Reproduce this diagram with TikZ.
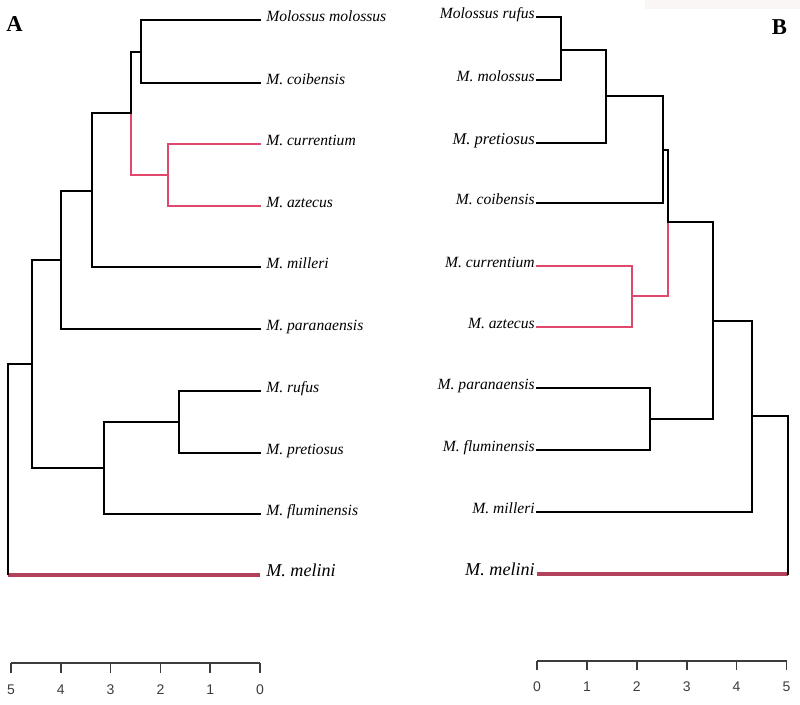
\documentclass[tikz,border=0pt]{standalone}
\usepackage{fontspec}
\setmainfont{Liberation Serif}
\newfontfamily\axisfont{Liberation Sans}
\definecolor{cladered}{RGB}{226,72,110}
\definecolor{outred}{RGB}{178,66,92}
\definecolor{axisgray}{RGB}{60,60,60}
\definecolor{faintbg}{RGB}{250,246,246}
\begin{document}
\begin{tikzpicture}[x=0.75pt,y=-0.75pt,
  br/.style={line width=1.5pt, black, line cap=rect},
  brred/.style={line width=1.5pt, cladered, line cap=rect},
  outg/.style={line width=2.6pt, outred},
  rootbr/.style={line width=0.9pt, black},
  axisline/.style={line width=1.2pt, axisgray},
  ticklbl/.style={font=\axisfont\fontsize{10.5}{12}\selectfont, text=axisgray, inner sep=0pt},
  tipl/.style={anchor=base west, inner sep=0pt, xshift=4.5pt, yshift=-1.5pt, font=\fontsize{11.7}{14}\selectfont\itshape},
  tipr/.style={anchor=base east, inner sep=0pt, xshift=-1.5pt, yshift=-1.5pt, font=\fontsize{11.7}{14}\selectfont\itshape},
  bigl/.style={tipl, font=\fontsize{13.6}{16}\selectfont\itshape},
  bigr/.style={tipr, font=\fontsize{13.6}{16}\selectfont\itshape},
  panel/.style={font=\fontsize{17}{20}\selectfont\bfseries, inner sep=0pt}]
\useasboundingbox (0,0) rectangle (800,705);
\fill[faintbg] (645,0) rectangle (800,9);

% ---------- Panel A ----------
\node[panel] (labA) at (14.5,24.5) {A};
\coordinate (tMolA) at (260,20);
\coordinate (tCoiA) at (260,83);
\coordinate (tCurA) at (260,144);
\coordinate (tAztA) at (260,206);
\coordinate (tMilA) at (260,267);
\coordinate (tParA) at (260,329);
\coordinate (tRufA) at (260,391);
\coordinate (tPreA) at (260,453);
\coordinate (tFluA) at (260,514);
\coordinate (tMelA) at (260,575);
\coordinate (a1) at (141,52);
\coordinate (a2) at (168,175);
\coordinate (a3) at (131,113);
\coordinate (a4) at (92,191);
\coordinate (a5) at (61,260);
\coordinate (a6) at (179,422);
\coordinate (a7) at (104,468);
\coordinate (a8) at (32,364);
\coordinate (rA) at (8,575);

\draw[br] (a1) |- (tMolA);
\draw[br] (a1) |- (tCoiA);
\draw[br] (a3) |- (a1);
\draw[brred] (a2) |- (tCurA);
\draw[brred] (a2) |- (tAztA);
\draw[brred] (a3) |- (a2);
\draw[br] (a4) |- (a3);
\draw[br] (a4) |- (tMilA);
\draw[br] (a5) |- (a4);
\draw[br] (a5) |- (tParA);
\draw[br] (a6) |- (tRufA);
\draw[br] (a6) |- (tPreA);
\draw[br] (a7) |- (a6);
\draw[br] (a7) |- (tFluA);
\draw[br] (a8) |- (a5);
\draw[br] (a8) |- (a7);
\draw[outg] (rA) -- (tMelA);
\draw[rootbr] (rA) |- (a8);

\node[tipl] (nMolA) at (tMolA) {Molossus molossus};
\node[tipl] (nCoiA) at (tCoiA) {M. coibensis};
\node[tipl] (nCurA) at (tCurA) {M. currentium};
\node[tipl] (nAztA) at (tAztA) {M. aztecus};
\node[tipl] (nMilA) at (tMilA) {M. milleri};
\node[tipl] (nParA) at (tParA) {M. paranaensis};
\node[tipl] (nRufA) at (tRufA) {M. rufus};
\node[tipl] (nPreA) at (tPreA) {M. pretiosus};
\node[tipl] (nFluA) at (tFluA) {M. fluminensis};
\node[bigl] (nMelA) at (tMelA) {M. melini};

\draw[axisline] (11,663) -- (260,663);
\foreach \v in {0,...,5}{
  \draw[axisline] ({260-49.8*\v},663) -- ({260-49.8*\v},673);
  \node[ticklbl] at ({260-49.8*\v},690) {\v};
}

% ---------- Panel B ----------
\node[panel] (labB) at (779.5,27.5) {B};
\coordinate (tRufB) at (537,17);
\coordinate (tMolB) at (537,80);
\coordinate (tPreB) at (537,143);
\coordinate (tCoiB) at (537,203);
\coordinate (tCurB) at (537,266);
\coordinate (tAztB) at (537,327);
\coordinate (tParB) at (537,388);
\coordinate (tFluB) at (537,450);
\coordinate (tMilB) at (537,512);
\coordinate (tMelB) at (537,574);
\coordinate (b1) at (561,50);
\coordinate (b2) at (606,96);
\coordinate (b3) at (663,150);
\coordinate (b4) at (632,296);
\coordinate (b5) at (668,222);
\coordinate (b6) at (650,419);
\coordinate (b7) at (713,321);
\coordinate (b8) at (752,416);
\coordinate (rB) at (788,574);

\draw[br] (b1) |- (tRufB);
\draw[br] (b1) |- (tMolB);
\draw[br] (b2) |- (b1);
\draw[br] (b2) |- (tPreB);
\draw[br] (b3) |- (b2);
\draw[br] (b3) |- (tCoiB);
\draw[br] (b5) |- (b3);
\draw[brred] (b4) |- (tCurB);
\draw[brred] (b4) |- (tAztB);
\draw[brred] (b5) |- (b4);
\draw[br] (b6) |- (tParB);
\draw[br] (b6) |- (tFluB);
\draw[br] (b7) |- (b5);
\draw[br] (b7) |- (b6);
\draw[br] (b8) |- (b7);
\draw[br] (b8) |- (tMilB);
\draw[outg] (rB) -- (tMelB);
\draw[br] (rB) |- (b8);

\node[tipr] (nRufB) at (tRufB) {Molossus rufus};
\node[tipr] (nMolB) at (tMolB) {M. molossus};
\node[tipr, font=\fontsize{12.4}{14}\selectfont\itshape] (nPreB) at (tPreB) {M. pretiosus};
\node[tipr] (nCoiB) at (tCoiB) {M. coibensis};
\node[tipr] (nCurB) at (tCurB) {M. currentium};
\node[tipr] (nAztB) at (tAztB) {M. aztecus};
\node[tipr] (nParB) at (tParB) {M. paranaensis};
\node[tipr] (nFluB) at (tFluB) {M. fluminensis};
\node[tipr] (nMilB) at (tMilB) {M. milleri};
\node[bigr] (nMelB) at (tMelB) {M. melini};

\draw[axisline] (537,661) -- (787,661);
\foreach \v in {0,...,5}{
  \draw[axisline] ({537+49.9*\v},661) -- ({537+49.9*\v},670);
  \node[ticklbl] at ({537+49.9*\v},687) {\v};
}
\end{tikzpicture}
\end{document}
